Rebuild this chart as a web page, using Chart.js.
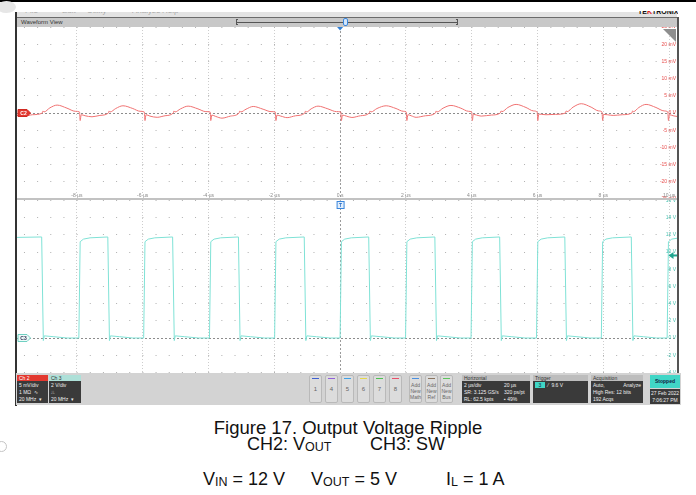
<!DOCTYPE html>
<html>
<head>
<meta charset="utf-8">
<title>Figure 17. Output Voltage Ripple</title>
<script src="https://cdn.jsdelivr.net/npm/chart.js@4"></script>
<style>
  body { margin:0; width:696px; height:495px; position:relative; overflow:hidden; background:#fff; font-family:"Liberation Sans", Arial, sans-serif; }
  .a { position:absolute; }
  .topline { left:0; top:0; width:696px; height:2px; background:#000; }
  .blob { left:-3px; top:1px; width:19px; height:12px; border-radius:50%; background:#e6e6e6; }
  .ring { left:-4px; top:441px; width:9px; height:9px; border-radius:50%; border:1px solid #c4c4c4; }
  .menu { left:17px; top:12px; width:660px; height:5px; background:#e3e3e3; overflow:hidden; }
  .menu span { position:absolute; top:-6px; font-size:8px; color:#aaa; }
  .logo { left:638px; top:11px; width:40px; height:5px; overflow:hidden; }
  .logo span { position:absolute; top:-3px; left:0; font-weight:bold; font-size:7px; color:#111; letter-spacing:0; }
  .logo b { color:#d22; }
  .header { left:17px; top:17px; width:661px; height:10px; background:#c8c8c8; border-top:1px solid #6a6a6a; box-sizing:border-box; }
  .header .t { position:absolute; left:4px; top:1px; font-size:6px; color:#333; }
  .slider { left:237px; top:22px; width:220px; height:1px; background:#555; }
  .brk { top:19px; width:2px; height:6px; border:1px solid #555; box-sizing:border-box; }
  .handle { left:343px; top:18px; width:5px; height:8px; border:1px solid #3a86dc; border-radius:2px; background:#d3e6fb; box-sizing:border-box; }
  .frameL { left:15px; top:12px; width:2px; height:394px; background:#333; }
  .frameR { left:677px; top:17px; width:2px; height:356px; background:#555; }
  .sep { left:17px; top:198px; width:660px; height:2px; background:#c2c2c2; }
  .corner { left:663px; top:29px; width:13px; height:13px; background:#8e8e8e; clip-path:polygon(0 0, 100% 0, 100% 100%); }
  canvas { position:absolute; display:block; }
  .status { left:16px; top:373px; width:665px; height:32px; background:#d3d3d3; font-size:5px; }
  .box { position:absolute; top:2px; height:28px; background:#3a3a3a; color:#eee; }
  .box .hd { height:6px; line-height:6px; padding-left:2px; background:#bdbdbd; color:#333; }
  .box .bd { padding:1px 2px 0 2px; line-height:7px; }
  .row { display:flex; justify-content:space-between; }
  .btn { position:absolute; top:2px; width:13px; height:28px; box-sizing:border-box; background:#dcdcdc; border:1px solid #b9b9b9; border-radius:2px; color:#666; text-align:center; }
  .btn i { position:absolute; left:2px; right:2px; top:2px; height:1px; }
  .btn .n { display:block; margin-top:10px; font-size:6px; }
  .btn .w { display:block; margin-top:6px; line-height:6px; }
  .stop { left:634px; top:2px; width:30px; height:13px; background:#40d6c6; color:#124; font-weight:bold; text-align:center; line-height:13px; }
  .date { left:634px; top:16px; width:30px; height:15px; background:#3a3a3a; color:#eee; text-align:center; line-height:7px; padding-top:1px; box-sizing:border-box; }
  .cap { font-size:18px; line-height:18px; color:#111; white-space:nowrap; }
  .cap sub { font-size:12.5px; vertical-align:-1px; line-height:0; }
</style>
</head>
<body>
<div class="a topline"></div>
<div class="a blob"></div>
<div class="a ring"></div>
<div class="a menu"><span style="left:8px">File</span><span style="left:45px">Edit</span><span style="left:70px">Utility</span><span style="left:115px">Analyze</span><span style="left:145px">Help</span></div>
<div class="a logo"><span>TE<b>K</b>TRONIX</span></div>
<div class="a header"><div class="t">Waveform View</div></div>
<div class="a slider"></div>
<div class="a brk" style="left:236px;border-right:none"></div>
<div class="a brk" style="left:456px;border-left:none"></div>
<div class="a handle"></div>

<canvas id="ch2" width="660" height="172" style="left:17px;top:27px;width:660px;height:172px"></canvas>
<canvas id="ch3" width="660" height="173" style="left:17px;top:200px;width:660px;height:173px"></canvas>
<div class="a sep"></div>
<div class="a corner"></div>
<div class="a frameL"></div>
<div class="a frameR"></div>

<div class="a status">
  <div class="box" style="left:1px;width:31px"><div class="hd" style="background:#e2382f;color:#fff">Ch 2</div><div class="bd">5 mV/div<br>1 MΩ &nbsp;∿<br>20 MHz &nbsp;▾</div></div>
  <div class="box" style="left:33px;width:32px"><div class="hd" style="background:#aee0d8">Ch 3</div><div class="bd">2 V/div<br>⎍<br>20 MHz &nbsp;▾</div></div>
  <div class="btn" style="left:293px"><i style="background:#3f5fd0"></i><span class="n">1</span></div>
  <div class="btn" style="left:309px"><i style="background:#9060d8"></i><span class="n">4</span></div>
  <div class="btn" style="left:325px"><i style="background:#3ea0e8"></i><span class="n">5</span></div>
  <div class="btn" style="left:341px"><i style="background:#e4d64a"></i><span class="n">6</span></div>
  <div class="btn" style="left:357px"><i style="background:#4cc050"></i><span class="n">7</span></div>
  <div class="btn" style="left:373px"><i style="background:#e8506a"></i><span class="n">8</span></div>
  <div class="btn" style="left:393px"><i style="background:#4a90e0"></i><span class="w">Add<br>New<br>Math</span></div>
  <div class="btn" style="left:409px"><i style="background:#8a7560"></i><span class="w">Add<br>New<br>Ref</span></div>
  <div class="btn" style="left:424px"><i style="background:#5cc45c"></i><span class="w">Add<br>New<br>Bus</span></div>
  <div class="box" style="left:446px;width:68px"><div class="hd">Horizontal</div><div class="bd">
    <div class="row"><span>2 µs/div</span><span style="width:24px">20 µs</span></div>
    <div class="row"><span>SR: 3.125 GS/s</span><span style="width:24px">320 ps/pt</span></div>
    <div class="row"><span>RL: 62.5 kpts</span><span style="width:24px">▪ 49%</span></div></div></div>
  <div class="box" style="left:517px;width:55px"><div class="hd">Trigger</div><div class="bd">
    <span style="display:inline-block;background:#40d6c6;color:#123;width:10px;text-align:center;line-height:6px">3</span>&nbsp; ⁄ &nbsp;9.6 V</div></div>
  <div class="box" style="left:575px;width:52px"><div class="hd">Acquisition</div><div class="bd">
    <div class="row"><span>Auto,</span><span>Analyze</span></div>High Res: 12 bits<br>192 Acqs</div></div>
  <div class="a stop">Stopped</div>
  <div class="a date">27 Feb 2022<br>7:06:27 PM</div>
</div>

<div class="a cap" style="left:0;width:696px;top:419px;text-align:center;font-size:18.5px">Figure 17. Output Voltage Ripple</div>
<div class="a cap" style="left:247px;top:435px">CH2: V<sub>OUT</sub></div>
<div class="a cap" style="left:370px;top:435px">CH3: SW</div>
<div class="a cap" style="left:203px;top:470px">V<sub>IN</sub> = 12 V</div>
<div class="a cap" style="left:311px;top:470px">V<sub>OUT</sub> = 5 V</div>
<div class="a cap" style="left:446px;top:470px">I<sub>L</sub> = 1 A</div>

<script>
// horizontal: 2 µs/div, trigger at 0
const timeRange = [-9.82, 10.24];   // µs
const timeStep = 2;
const timeLabels = ['-8 µs', '-6 µs', '-4 µs', '-2 µs', '0 s', '2 µs', '4 µs', '6 µs', '8 µs', '10 µs'];

// CH2 (Vout ripple), 5 mV/div
const ch2Range = [-25, 25];
const ch2Step = 5;
// CH3 (SW), 2 V/div
const ch3Range = [-4.07, 16.05];
const ch3Step = 2;
const triggerLevel = 9.6;

// [µs, mV]
const ch2Points = [
  [-9.82,-0.7],[-9.62,-1.0],[-9.35,-0.5],
  [-9.05,0.0],[-9.03,0.6],[-9.0,0.3],[-8.82,1.5],[-8.6,2.3],[-8.3,1.4],[-8.05,0.5],
  [-7.92,0.3],[-7.9,-2.2],[-7.87,-0.5],[-7.75,-0.8],[-7.54,-1.1],[-7.3,-0.7],
  [-7.04,0.0],[-7.02,0.6],[-6.99,0.3],[-6.82,1.3],[-6.6,2.1],[-6.3,1.3],[-6.08,0.5],
  [-5.95,0.3],[-5.93,-2.2],[-5.9,-0.5],[-5.78,-0.9],[-5.56,-1.25],[-5.32,-0.8],
  [-5.07,0.0],[-5.05,0.6],[-5.02,0.3],[-4.85,1.2],[-4.62,2.0],[-4.32,1.2],[-4.08,0.4],
  [-3.95,0.3],[-3.93,-2.2],[-3.9,-0.6],[-3.78,-1.0],[-3.59,-1.5],[-3.33,-0.9],
  [-3.07,0.0],[-3.05,0.6],[-3.02,0.3],[-2.86,1.1],[-2.64,1.9],[-2.34,1.1],[-2.1,0.4],
  [-1.97,0.3],[-1.95,-2.2],[-1.92,-0.6],[-1.8,-0.9],[-1.61,-1.35],[-1.35,-0.8],
  [-1.07,0.0],[-1.05,0.6],[-1.02,0.3],[-0.88,1.2],[-0.67,2.0],[-0.37,1.2],[-0.11,0.4],
  [0.02,0.3],[0.04,-2.2],[0.07,-0.6],[0.19,-0.9],[0.36,-1.3],[0.62,-0.8],
  [0.89,0.0],[0.91,0.6],[0.94,0.3],[1.12,1.3],[1.40,2.1],[1.7,1.3],[1.92,0.5],
  [2.01,0.3],[2.03,-2.2],[2.06,-0.5],[2.16,-0.8],[2.31,-1.25],[2.6,-0.8],
  [2.90,0.0],[2.92,0.6],[2.95,0.3],[3.13,1.4],[3.37,2.2],[3.67,1.4],[3.9,0.5],
  [4.00,0.3],[4.02,-2.2],[4.05,-0.4],[4.15,-0.6],[4.29,-0.9],[4.6,-0.6],
  [4.87,0.0],[4.89,0.6],[4.92,0.4],[5.1,1.6],[5.35,2.5],[5.65,1.6],[5.88,0.6],
  [5.99,0.3],[6.01,-2.2],[6.04,-0.3],[6.12,-0.4],[6.26,-0.5],[6.55,-0.4],
  [6.85,0.0],[6.87,0.6],[6.9,0.4],[7.08,1.7],[7.33,2.7],[7.63,1.7],[7.86,0.6],
  [7.96,0.3],[7.98,-2.2],[8.01,-0.4],[8.12,-0.5],[8.30,-0.7],[8.58,-0.5],
  [8.87,0.0],[8.89,0.6],[8.92,0.4],[9.08,1.6],[9.30,2.5],[9.6,1.6],[9.85,0.6],
  [9.96,0.3],[9.98,-2.2],[10.01,-0.5],[10.12,-0.8],[10.24,-1.0]
];

// [µs, V]
const ch3Points = [
  [-9.82,11.7],[-9.07,11.75],[-9.02,-0.3],[-8.99,0.25],[-8.7,0.15],[-8.3,0.0],
  [-7.94,0.0],[-7.90,11.2],[-7.8,11.5],[-7.6,11.65],[-7.06,11.75],
  [-7.01,-0.3],[-6.98,0.25],[-6.7,0.15],[-6.3,0.0],
  [-5.97,0.0],[-5.93,11.2],[-5.83,11.5],[-5.63,11.65],[-5.09,11.75],
  [-5.04,-0.3],[-5.01,0.25],[-4.72,0.15],[-4.3,0.0],
  [-3.97,0.0],[-3.93,11.2],[-3.83,11.5],[-3.63,11.65],[-3.09,11.75],
  [-3.04,-0.3],[-3.01,0.25],[-2.72,0.15],[-2.3,0.0],
  [-1.99,0.0],[-1.95,11.2],[-1.85,11.5],[-1.65,11.65],[-1.09,11.75],
  [-1.04,-0.3],[-1.01,0.25],[-0.72,0.15],[-0.3,0.0],
  [0.0,0.0],[0.04,11.2],[0.14,11.5],[0.34,11.65],[0.87,11.75],
  [0.92,-0.3],[0.95,0.25],[1.24,0.15],[1.65,0.0],
  [1.99,0.0],[2.03,11.2],[2.13,11.5],[2.33,11.65],[2.88,11.75],
  [2.93,-0.3],[2.96,0.25],[3.25,0.15],[3.65,0.0],
  [3.98,0.0],[4.02,11.2],[4.12,11.5],[4.32,11.65],[4.85,11.75],
  [4.90,-0.3],[4.93,0.25],[5.22,0.15],[5.62,0.0],
  [5.97,0.0],[6.01,11.2],[6.11,11.5],[6.31,11.65],[6.83,11.75],
  [6.88,-0.3],[6.91,0.25],[7.2,0.15],[7.6,0.0],
  [7.94,0.0],[7.98,11.2],[8.08,11.5],[8.28,11.65],[8.85,11.75],
  [8.90,-0.3],[8.93,0.25],[9.22,0.15],[9.62,0.0],
  [9.94,0.0],[9.98,11.2],[10.08,11.5],[10.24,11.6]
];

const toXY = pts => pts.map(([t, v]) => ({ x: t, y: v }));

// tick labels, channel tags and markers drawn on the scales
const scopeDecor = {
  id: 'scopeDecor',
  afterDraw(chart, args, o) {
    const { ctx, chartArea: a, scales: { x, y } } = chart;
    ctx.save();
    ctx.font = '5px "Liberation Sans", sans-serif';
    ctx.textBaseline = 'middle';
    ctx.textAlign = 'right';
    ctx.fillStyle = o.labelColor;
    y.ticks.forEach(t => ctx.fillText(o.yLabel(t.value), a.right - 1, y.getPixelForValue(t.value)));

    if (o.xLabels) {
      ctx.textAlign = 'center';
      ctx.fillStyle = '#8a8a8a';
      x.ticks.forEach((t, i) => ctx.fillText(timeLabels[i] || '', x.getPixelForValue(t.value), a.bottom - 3));
    }

    const x0 = x.getPixelForValue(0);
    const yc = y.getPixelForValue(0);

    // channel tag
    ctx.beginPath();
    ctx.moveTo(a.left + 1, yc - 3.5);
    ctx.lineTo(a.left + 10, yc - 3.5);
    ctx.lineTo(a.left + 13.5, yc);
    ctx.lineTo(a.left + 10, yc + 3.5);
    ctx.lineTo(a.left + 1, yc + 3.5);
    ctx.closePath();
    ctx.fillStyle = o.tagFill;
    ctx.fill();
    ctx.strokeStyle = o.tagStroke;
    ctx.lineWidth = 1;
    ctx.stroke();
    ctx.fillStyle = o.tagText;
    ctx.font = 'bold 5px "Liberation Sans", sans-serif';
    ctx.textAlign = 'center';
    ctx.fillText(o.tag, a.left + 6.5, yc + 0.5);

    if (o.topTriangle) {
      ctx.beginPath();
      ctx.moveTo(x0 - 3, a.top);
      ctx.lineTo(x0 + 3, a.top);
      ctx.lineTo(x0, a.top + 3.5);
      ctx.closePath();
      ctx.fillStyle = '#2f7fd6';
      ctx.fill();
    }
    if (o.triggerT) {
      ctx.fillStyle = '#e1eefc';
      ctx.strokeStyle = '#3a86dc';
      ctx.fillRect(x0 - 3, a.top + 1.5, 7, 7);
      ctx.strokeRect(x0 - 3, a.top + 1.5, 7, 7);
      ctx.fillStyle = '#2a70c8';
      ctx.font = 'bold 5px "Liberation Sans", sans-serif';
      ctx.fillText('T', x0 + 0.5, a.top + 5.2);
    }
    if (o.levelArrow) {
      const yl = y.getPixelForValue(triggerLevel);
      ctx.fillStyle = '#1fa58f';
      ctx.beginPath();
      ctx.moveTo(a.right - 8.5, yl);
      ctx.lineTo(a.right - 3.5, yl - 3.5);
      ctx.lineTo(a.right - 3.5, yl + 3.5);
      ctx.closePath();
      ctx.fill();
      ctx.fillRect(a.right - 4, yl - 1, 4, 2);
    }
    ctx.restore();
  }
};

function scopeChart(id, points, color, range, step, decor) {
  return new Chart(document.getElementById(id), {
    type: 'line',
    data: {
      datasets: [{
        data: toXY(points),
        borderColor: color,
        borderWidth: 1,
        pointRadius: 0,
        cubicInterpolationMode: decor.smooth ? 'monotone' : 'default',
        tension: 0
      }]
    },
    options: {
      responsive: false,
      animation: false,
      events: [],
      layout: { padding: 0 },
      plugins: { legend: { display: false }, tooltip: { enabled: false }, scopeDecor: decor },
      scales: {
        x: {
          type: 'linear', min: timeRange[0], max: timeRange[1],
          ticks: { stepSize: timeStep, includeBounds: false, display: false },
          grid: { drawTicks: false, color: c => c.tick && c.tick.value === 0 ? '#9a9a9a' : '#cdcdcd' },
          border: { display: false, dash: c => c.tick && c.tick.value === 0 ? [2, 2] : [1, 2] }
        },
        y: {
          type: 'linear', min: range[0], max: range[1],
          ticks: { stepSize: step, includeBounds: false, display: false },
          grid: { drawTicks: false, color: c => c.tick && c.tick.value === 0 ? '#8c8c8c' : '#b0b0b0' },
          border: {
            display: false,
            dash: c => c.tick && c.tick.value === 0 ? [2, 2] : [1, 12.16],
            dashOffset: c => c.tick && c.tick.value === 0 ? 0 : 6.2
          }
        }
      }
    },
    plugins: [scopeDecor]
  });
}

scopeChart('ch2', ch2Points, '#f07272', ch2Range, ch2Step, {
  smooth: true, labelColor: '#e8504f', xLabels: true, topTriangle: true,
  yLabel: v => v === 0 ? '0 V' : v + ' mV',
  tag: 'C2', tagFill: '#e2382f', tagStroke: '#d02a22', tagText: '#fff'
});

scopeChart('ch3', ch3Points, '#7fe2d6', ch3Range, ch3Step, {
  smooth: false, labelColor: '#4fc4b4', triggerT: true, levelArrow: true,
  yLabel: v => v + ' V',
  tag: 'C3', tagFill: '#eefbf9', tagStroke: '#6fd0c2', tagText: '#335'
});
</script>
</body>
</html>
